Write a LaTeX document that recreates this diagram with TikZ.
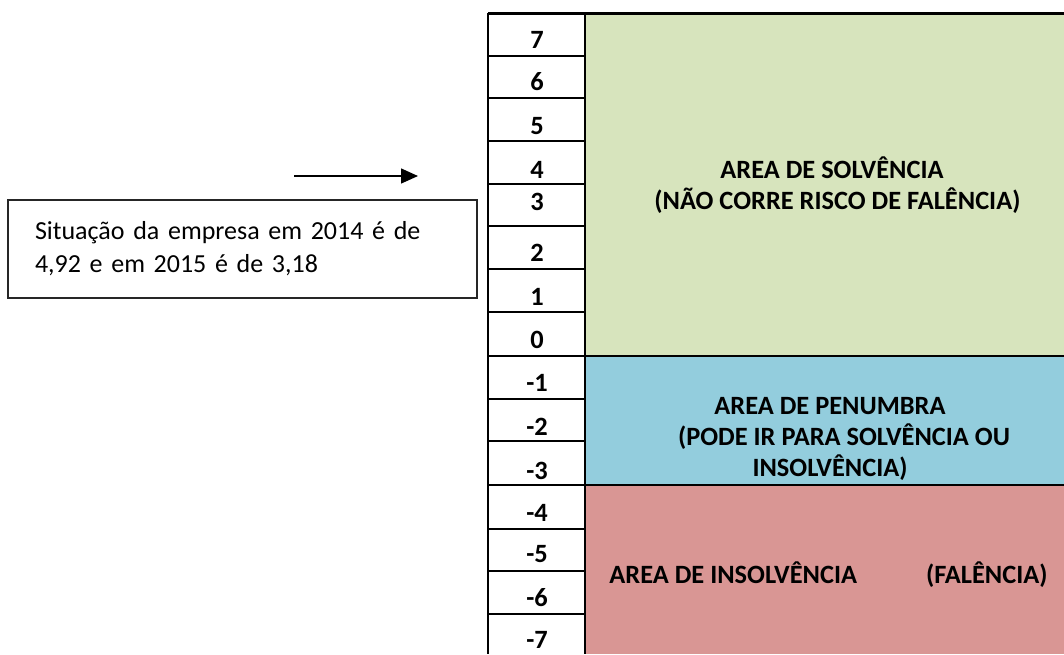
\documentclass[tikz,border=0pt]{standalone}
\usepackage{fontspec}
\setmainfont{Carlito}
\usetikzlibrary{arrows,arrows.meta,positioning,shapes}
\definecolor{solvgreen}{HTML}{D7E4BD}
\definecolor{penblue}{HTML}{93CDDD}
\definecolor{insred}{HTML}{D99694}
\tikzset{
    %Define standard arrow tip
    >={Triangle[length=8.5pt,width=7.5pt]},
    %Define style for the numbers of the scale
    scalenum/.style={
           inner sep=0pt,
           font=\fontsize{13.2}{15}\selectfont\bfseries,
           text centered},
    %Define style for the texts of the areas
    zonetext/.style={
           inner sep=0pt,
           font=\fontsize{13.2}{15.5}\selectfont\bfseries},
    %Define style for the box with the situation
    infobox/.style={
           rectangle,
           draw=black!85, line width=0.7pt,
           minimum width=234.5pt,
           minimum height=49pt,
           inner xsep=13.5pt,
           font=\fontsize{13}{16.5}\selectfont,
           align=left,
           text width=207.5pt},
    % Define grid line style
    grid/.style={line width=1pt},
    zoneline/.style={line width=1.3pt}
}

\begin{document}
\begin{tikzpicture}[x=0.5pt,y=-0.5pt]
\useasboundingbox (0,0) rectangle (1064,654);
% coloured areas
\fill[solvgreen] (585,13) rectangle (1064,356);
\fill[penblue] (585,356) rectangle (1064,485);
\fill[insred] (585,485) rectangle (1064,654);
% scale column
\draw[line width=1.5pt] (488,13) -- (1064,13);
\draw[grid] (488,13) -- (488,654) (585,13) -- (585,654);
\foreach \y in {56,98,141,184,226,269,312,356,399,441,485,529,571,614}
    \draw[grid] (488,\y) -- (585,\y);
\draw[zoneline] (585,356) -- (1064,356) (585,485) -- (1064,485);
\foreach \v/\y [count=\i] in {7/40,6/82,5/126,4/170,3/202,2/253,1/297,0/340,-1/383,-2/427,-3/471,-4/513,-5/554,-6/598,-7/640}
    \node[scalenum] (num\i) at (537,\y) {\v};
% texts of the areas
\node[zonetext, align=left, anchor=west] (solv) at (654,185)
    {\hspace*{33pt}AREA DE SOLVÊNCIA\\(NÃO CORRE RISCO DE FALÊNCIA)};
\node[zonetext, align=center] (pen) at (830,439)
    {AREA DE PENUMBRA\\\hspace*{14pt}(PODE IR PARA SOLVÊNCIA OU\\INSOLVÊNCIA)};
\node[zonetext, anchor=west] (ins) at (609,575)
    {AREA DE INSOLVÊNCIA\hspace{34.5pt}(FALÊNCIA)};
% situation of the company
\node[infobox] (sit) at (242.5,249)
    {Situação da empresa em 2014 é de\\4,92 e em 2015 é de 3,18};
\coordinate (arrS) at (294,176);
\coordinate (arrE) at (418,176);
\draw[->, line width=0.7pt] (arrS) -- (arrE);
\end{tikzpicture}
\end{document}
